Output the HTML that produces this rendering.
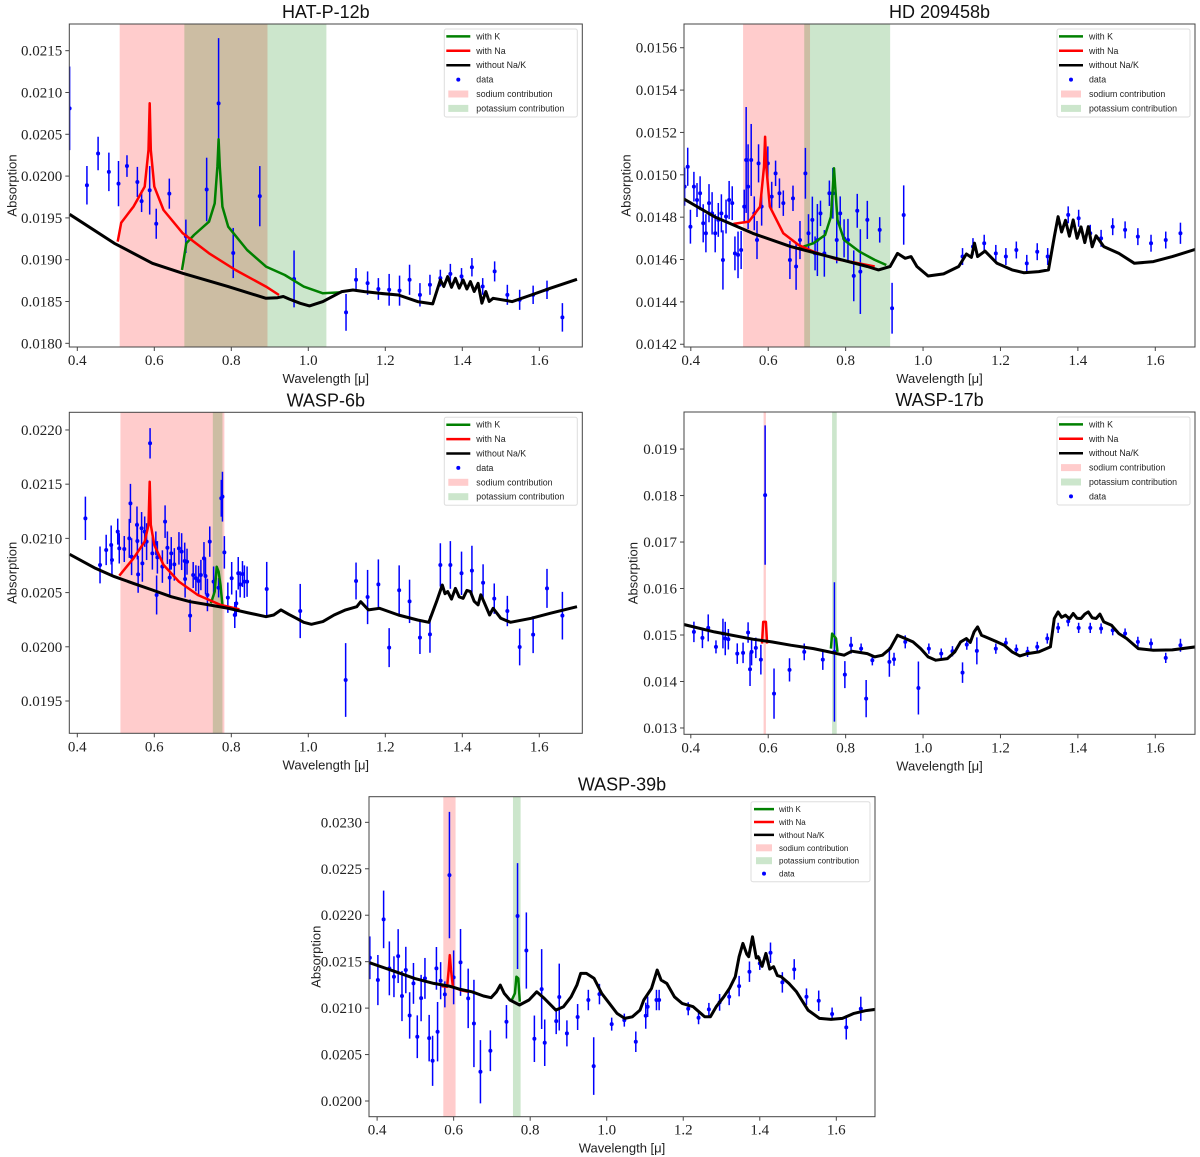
<!DOCTYPE html>
<html><head><meta charset="utf-8"><style>
body{margin:0;background:#fff}
svg{display:block}
.tk{font-family:"Liberation Serif",serif;font-size:15px;fill:#222}
.lb{font-family:"Liberation Sans",sans-serif;font-size:13px;fill:#222}
.tt{font-family:"Liberation Sans",sans-serif;font-size:18px;fill:#111}
.lg{font-family:"Liberation Sans",sans-serif;fill:#222}
</style></head><body>
<svg id="fig" xmlns="http://www.w3.org/2000/svg" width="1200" height="1157" viewBox="0 0 1200 1157"></svg>
<script>
// ---------- HAT-P-12b ----------
const hatTicksY=[0.0180,0.0185,0.0190,0.0195,0.0200,0.0205,0.0210,0.0215];
const hatModel=[[0.380,0.019543],[0.496,0.019196],[0.595,0.018957],[0.674,0.018838],[0.792,0.018678],[0.890,0.018538],[0.920,0.018546],[0.935,0.01856],[0.950,0.018530],[0.979,0.018479],[1.003,0.018447],[1.038,0.018499],[1.087,0.018618],[1.116,0.018638],[1.146,0.018618],[1.185,0.018598],[1.234,0.018578],[1.284,0.018499],[1.323,0.018471],[1.343,0.018758],[1.352,0.01868],[1.362,0.018798],[1.372,0.01867],[1.382,0.018778],[1.392,0.01866],[1.402,0.018758],[1.412,0.01865],[1.421,0.018738],[1.431,0.01862],[1.441,0.018718],[1.451,0.01848],[1.461,0.01862],[1.470,0.0185],[1.480,0.018538],[1.530,0.018499],[1.579,0.018578],[1.628,0.018658],[1.698,0.018766]];
const hatNa=[[0.505,0.019216],[0.514,0.019443],[0.546,0.019635],[0.575,0.019874],[0.585,0.020312],[0.588,0.02087],[0.591,0.020312],[0.600,0.019874],[0.624,0.019595],[0.674,0.019316],[0.742,0.019077],[0.811,0.018877],[0.890,0.018678],[0.924,0.018578]];
const hatK=[[0.672,0.018877],[0.683,0.019196],[0.703,0.019296],[0.742,0.019455],[0.757,0.019674],[0.764,0.020113],[0.767,0.02044],[0.770,0.020113],[0.777,0.019635],[0.792,0.019395],[0.841,0.019116],[0.890,0.018917],[0.939,0.018817],[0.988,0.018678],[1.038,0.018598],[1.087,0.01861]];
const hatData=[[0.380,0.02081,0.0005],[0.425,0.01989,0.00023],[0.454,0.02027,0.0002],[0.482,0.02005,0.00023],[0.507,0.01991,0.00027],[0.529,0.02012,0.00013],[0.556,0.01993,0.00018],[0.567,0.01970,0.00013],[0.588,0.01983,0.00029],[0.605,0.01943,0.00018],[0.639,0.01979,0.00018],[0.682,0.01928,0.0002],[0.736,0.01984,0.00038],[0.767,0.02087,0.00078],[0.805,0.01908,0.0003],[0.874,0.01976,0.00036],[0.963,0.01877,0.00034],[1.098,0.01837,0.00022],[1.124,0.01876,0.00014],[1.154,0.01872,0.00014],[1.182,0.01865,0.00013],[1.210,0.01864,0.00019],[1.237,0.01863,0.00018],[1.263,0.01876,0.00018],[1.290,0.01858,0.00014],[1.316,0.0187,0.00012],[1.343,0.01878,0.0001],[1.369,0.01883,0.00012],[1.398,0.0188,0.0001],[1.425,0.01891,0.00011],[1.453,0.01868,0.0001],[1.484,0.01886,0.00012],[1.517,0.01858,0.00012],[1.549,0.01852,0.00012],[1.584,0.01858,0.00011],[1.620,0.01864,0.00011],[1.660,0.01831,0.00017]];
const hatNaBand=[0.510,0.894];
const hatKBand=[0.678,1.047];
// ---------- HD 209458b ----------
const hdTicksY=[0.0142,0.0144,0.0146,0.0148,0.0150,0.0152,0.0154,0.0156];
const hdModel=[[0.382,0.014886],[0.461,0.014802],[0.560,0.014724],[0.658,0.014661],[0.757,0.014614],[0.856,0.014567],[0.885,0.014551],[0.915,0.014567],[0.934,0.014629],[0.954,0.014606],[0.969,0.014614],[0.984,0.014567],[1.013,0.014522],[1.053,0.014532],[1.092,0.014567],[1.112,0.014626],[1.125,0.01461],[1.133,0.014677],[1.141,0.014614],[1.160,0.01464],[1.191,0.014582],[1.230,0.014551],[1.260,0.014538],[1.299,0.014543],[1.324,0.014551],[1.339,0.014708],[1.349,0.014802],[1.358,0.01473],[1.368,0.014785],[1.378,0.01471],[1.388,0.014787],[1.398,0.0147],[1.408,0.014754],[1.418,0.01468],[1.427,0.014755],[1.437,0.01466],[1.447,0.014712],[1.467,0.014661],[1.506,0.014629],[1.546,0.014582],[1.595,0.01459],[1.644,0.014614],[1.703,0.014648]];
const hdNa=[[0.510,0.014768],[0.550,0.014779],[0.579,0.01485],[0.589,0.015038],[0.592,0.01518],[0.595,0.015038],[0.604,0.01485],[0.639,0.014724],[0.678,0.014669],[0.717,0.014637],[0.777,0.014601],[0.826,0.014585],[0.875,0.014567]];
const hdK=[[0.678,0.014653],[0.717,0.014677],[0.747,0.014716],[0.762,0.014802],[0.767,0.014944],[0.770,0.015031],[0.773,0.014944],[0.779,0.014787],[0.796,0.014692],[0.836,0.014637],[0.875,0.014598],[0.905,0.014574]];
const hdData=[[0.384,0.014944,0.00009],[0.392,0.015038,0.00009],[0.399,0.014755,0.00008],[0.408,0.014944,0.00007],[0.416,0.014881,0.00008],[0.424,0.014913,0.00008],[0.432,0.014771,0.00009],[0.439,0.014724,0.00009],[0.447,0.014866,0.00009],[0.455,0.014818,0.0001],[0.463,0.014724,0.00009],[0.471,0.014787,0.00008],[0.479,0.014818,0.00009],[0.483,0.014598,0.00014],[0.491,0.014803,0.00008],[0.499,0.014881,0.00009],[0.507,0.014866,0.00008],[0.514,0.014629,0.00008],[0.522,0.014622,0.00011],[0.530,0.014645,0.00009],[0.538,0.01485,0.00008],[0.543,0.01507,0.00025],[0.548,0.014944,0.0002],[0.556,0.01507,0.00017],[0.564,0.014818,0.00008],[0.571,0.014692,0.00009],[0.575,0.015054,0.00009],[0.583,0.01485,0.00009],[0.599,0.015054,0.00008],[0.609,0.014897,0.00007],[0.619,0.015007,0.00006],[0.629,0.014913,0.00007],[0.639,0.014866,0.00006],[0.656,0.014598,0.00009],[0.664,0.014889,0.00006],[0.672,0.014567,0.00011],[0.682,0.014692,0.00009],[0.696,0.015007,0.00012],[0.704,0.014724,0.00009],[0.714,0.014787,0.00011],[0.721,0.014629,0.00008],[0.727,0.014692,0.00017],[0.735,0.014818,0.00006],[0.745,0.014629,0.00011],[0.758,0.014913,0.00006],[0.767,0.014913,0.00012],[0.777,0.014692,0.00011],[0.786,0.014818,0.00008],[0.796,0.0147,0.00009],[0.806,0.014692,0.0001],[0.821,0.014523,0.00012],[0.830,0.01483,0.00008],[0.838,0.014543,0.0002],[0.856,0.014787,0.00009],[0.888,0.01474,0.00006],[0.920,0.01437,0.00012],[0.950,0.01481,0.00014],[1.102,0.014614,0.00004],[1.129,0.014661,0.00004],[1.158,0.014677,0.00004],[1.188,0.014629,0.00004],[1.214,0.014614,0.00004],[1.241,0.014645,0.00004],[1.268,0.014582,0.00004],[1.295,0.014637,0.00004],[1.322,0.014614,0.00004],[1.375,0.014811,0.00004],[1.402,0.014795,0.00004],[1.432,0.014724,0.00004],[1.460,0.0147,0.00004],[1.490,0.014755,0.00004],[1.522,0.01474,0.00004],[1.555,0.014708,0.00004],[1.589,0.014677,0.00004],[1.627,0.014692,0.00004],[1.665,0.014724,0.00005]];
const hdNaBand=[0.535,0.708];
const hdKBand=[0.693,0.915];
// ---------- WASP-6b ----------
const w6TicksY=[0.0195,0.0200,0.0205,0.0210,0.0215,0.0220];
const w6Model=[[0.380,0.020853],[0.447,0.020724],[0.496,0.020647],[0.546,0.020585],[0.595,0.020524],[0.644,0.020462],[0.693,0.020416],[0.742,0.020386],[0.792,0.020355],[0.841,0.020315],[0.890,0.020278],[0.910,0.020293],[0.929,0.02034],[0.949,0.0203],[0.969,0.020263],[0.988,0.020226],[1.008,0.020207],[1.038,0.020232],[1.067,0.020293],[1.097,0.02034],[1.126,0.02037],[1.136,0.020416],[1.156,0.02034],[1.185,0.020355],[1.234,0.020293],[1.284,0.020247],[1.313,0.020226],[1.333,0.020416],[1.348,0.02057],[1.355,0.02049],[1.362,0.020509],[1.372,0.02044],[1.382,0.020539],[1.392,0.02046],[1.402,0.020447],[1.412,0.02052],[1.421,0.020509],[1.431,0.02042],[1.441,0.020386],[1.448,0.02048],[1.456,0.020416],[1.471,0.020293],[1.480,0.020355],[1.500,0.020263],[1.525,0.020226],[1.579,0.020263],[1.628,0.020309],[1.698,0.02037]];
const w6Na=[[0.509,0.020656],[0.546,0.020816],[0.575,0.02097],[0.585,0.021124],[0.588,0.021523],[0.591,0.021124],[0.600,0.020939],[0.624,0.020755],[0.664,0.020601],[0.713,0.020478],[0.772,0.020386],[0.821,0.020346]];
const w6K=[[0.747,0.020401],[0.757,0.020509],[0.762,0.020739],[0.767,0.020693],[0.772,0.02057],[0.777,0.020386]];
const w6Data=[[0.421,0.021185,0.0002],[0.459,0.020755,0.00017],[0.475,0.020893,0.00014],[0.488,0.020939,0.00018],[0.490,0.020801,0.00014],[0.505,0.021062,0.00012],[0.509,0.020908,0.00014],[0.522,0.020902,0.00012],[0.535,0.021,0.00018],[0.538,0.021323,0.00018],[0.541,0.020831,0.00017],[0.555,0.021124,0.00017],[0.556,0.020976,0.00017],[0.558,0.020668,0.00017],[0.567,0.021093,0.00015],[0.569,0.02077,0.00017],[0.575,0.021062,0.00014],[0.580,0.02097,0.00017],[0.589,0.021877,0.00014],[0.595,0.020862,0.00015],[0.604,0.020954,0.00011],[0.606,0.020478,0.00018],[0.608,0.020825,0.00015],[0.621,0.02074,0.00015],[0.628,0.021154,0.00015],[0.634,0.020914,0.00015],[0.640,0.020638,0.00017],[0.644,0.020862,0.00015],[0.652,0.02076,0.00015],[0.664,0.020908,0.00015],[0.671,0.020878,0.00017],[0.679,0.020791,0.00017],[0.680,0.020625,0.00017],[0.685,0.020785,0.00012],[0.693,0.020287,0.00015],[0.701,0.020662,0.00012],[0.708,0.020632,0.00012],[0.715,0.020607,0.00014],[0.721,0.020662,0.00014],[0.729,0.020816,0.00015],[0.733,0.020653,0.00017],[0.738,0.020478,0.00015],[0.744,0.02097,0.00014],[0.754,0.020601,0.00014],[0.767,0.020545,0.00009],[0.774,0.02137,0.00017],[0.777,0.021385,0.00023],[0.782,0.020871,0.00015],[0.791,0.020453,0.00014],[0.801,0.020632,0.00015],[0.809,0.020293,0.00012],[0.813,0.020401,0.00012],[0.818,0.020678,0.00015],[0.823,0.020576,0.00012],[0.829,0.020671,0.00012],[0.834,0.020601,0.00015],[0.841,0.020601,0.00014],[0.892,0.020533,0.00025],[0.979,0.02033,0.00025],[1.097,0.019694,0.00034],[1.124,0.020607,0.00017],[1.154,0.020459,0.00025],[1.182,0.020576,0.00023],[1.210,0.019992,0.00018],[1.236,0.020521,0.00023],[1.263,0.020419,0.0002],[1.290,0.020084,0.00015],[1.316,0.020115,0.00017],[1.343,0.020755,0.0002],[1.369,0.020755,0.00022],[1.398,0.020678,0.0002],[1.425,0.020702,0.00023],[1.454,0.020591,0.00017],[1.483,0.020444,0.00014],[1.517,0.02033,0.00014],[1.549,0.019998,0.00017],[1.584,0.020112,0.00017],[1.620,0.020539,0.00018],[1.660,0.020287,0.00022]];
const w6NaBand=[0.512,0.782];
const w6KBand=[0.752,0.777];
// ---------- WASP-17b ----------
const w17TicksY=[0.013,0.014,0.015,0.016,0.017,0.018,0.019];
const w17Model=[[0.382,0.015225],[0.461,0.015067],[0.560,0.014909],[0.609,0.014852],[0.658,0.01478],[0.717,0.014708],[0.757,0.014636],[0.796,0.014565],[0.816,0.014651],[0.856,0.0146],[0.875,0.014529],[0.895,0.014565],[0.915,0.014708],[0.934,0.014995],[0.954,0.014924],[0.974,0.014852],[0.994,0.014708],[1.013,0.014529],[1.033,0.014457],[1.063,0.014493],[1.082,0.014636],[1.097,0.014852],[1.112,0.014924],[1.122,0.01484],[1.132,0.015067],[1.141,0.015175],[1.151,0.014995],[1.171,0.014924],[1.191,0.014852],[1.210,0.01478],[1.230,0.014636],[1.250,0.01455],[1.270,0.0146],[1.299,0.014636],[1.329,0.014744],[1.339,0.015354],[1.349,0.015498],[1.358,0.01538],[1.368,0.015426],[1.378,0.01535],[1.388,0.015462],[1.398,0.01536],[1.408,0.015354],[1.418,0.01545],[1.427,0.015498],[1.437,0.01537],[1.447,0.015354],[1.457,0.01545],[1.467,0.015282],[1.487,0.01521],[1.506,0.015031],[1.526,0.014924],[1.556,0.014708],[1.595,0.014672],[1.644,0.01468],[1.703,0.014744]];
const w17Na=[[0.584,0.014816],[0.587,0.015282],[0.594,0.015282],[0.597,0.014816]];
const w17K=[[0.762,0.014708],[0.765,0.015031],[0.775,0.014924],[0.779,0.014636]];
const w17Data=[[0.408,0.015067,0.00022],[0.430,0.014938,0.00022],[0.445,0.015153,0.00029],[0.465,0.014744,0.00014],[0.483,0.015031,0.00032],[0.489,0.014924,0.00036],[0.497,0.014909,0.00022],[0.520,0.0146,0.00022],[0.535,0.014615,0.00022],[0.548,0.015053,0.00022],[0.553,0.014263,0.00036],[0.557,0.014636,0.00029],[0.568,0.014723,0.00022],[0.581,0.014471,0.00032],[0.592,0.01801,0.0015],[0.615,0.013739,0.00054],[0.655,0.014249,0.00025],[0.693,0.014636,0.00018],[0.741,0.014471,0.00022],[0.771,0.014636,0.0015],[0.798,0.014148,0.00029],[0.814,0.01478,0.00018],[0.840,0.014708,0.00011],[0.853,0.013632,0.0004],[0.869,0.014457,0.00011],[0.913,0.014421,0.00032],[0.925,0.014479,0.00014],[0.954,0.014852,0.00014],[0.988,0.013861,0.00057],[1.015,0.014708,0.00011],[1.047,0.0146,0.00011],[1.076,0.014651,0.00011],[1.102,0.014191,0.00022],[1.113,0.014794,0.00011],[1.139,0.014658,0.00029],[1.188,0.014708,0.00011],[1.214,0.01483,0.00011],[1.241,0.014687,0.00011],[1.270,0.014636,0.00011],[1.295,0.014744,0.00011],[1.321,0.014924,0.00011],[1.349,0.015153,0.00011],[1.375,0.015297,0.00011],[1.402,0.015153,0.00011],[1.432,0.015153,0.00011],[1.460,0.015139,0.00011],[1.490,0.015103,0.00011],[1.522,0.015031,0.00011],[1.555,0.014852,0.00011],[1.589,0.014816,0.00011],[1.627,0.014507,0.00011],[1.665,0.01478,0.00014]];
const w17NaBand=[0.588,0.594];
const w17KBand=[0.765,0.777];
// ---------- WASP-39b ----------
const w39TicksY=[0.0200,0.0205,0.0210,0.0215,0.0220,0.0225,0.0230];
const w39Model=[[0.380,0.021489],[0.448,0.021392],[0.498,0.02132],[0.548,0.021266],[0.588,0.021237],[0.618,0.021201],[0.648,0.021176],[0.678,0.02113],[0.698,0.021112],[0.712,0.021176],[0.722,0.021248],[0.732,0.021158],[0.747,0.021087],[0.772,0.021033],[0.797,0.021087],[0.817,0.021176],[0.837,0.021105],[0.867,0.020979],[0.887,0.021015],[0.907,0.021122],[0.922,0.021248],[0.932,0.021374],[0.947,0.021374],[0.967,0.02132],[0.987,0.021158],[1.007,0.021051],[1.027,0.020943],[1.047,0.020889],[1.067,0.020907],[1.087,0.020979],[1.097,0.021087],[1.117,0.021212],[1.132,0.02141],[1.142,0.021302],[1.157,0.021266],[1.177,0.021122],[1.197,0.021051],[1.226,0.021015],[1.256,0.020907],[1.271,0.020907],[1.286,0.021015],[1.306,0.021122],[1.321,0.021212],[1.336,0.021338],[1.346,0.021553],[1.356,0.021697],[1.366,0.02158],[1.371,0.021553],[1.381,0.021768],[1.391,0.02154],[1.396,0.021553],[1.406,0.02145],[1.416,0.021589],[1.426,0.02142],[1.436,0.021446],[1.446,0.02135],[1.456,0.021338],[1.476,0.021266],[1.496,0.021176],[1.526,0.020979],[1.556,0.020889],[1.586,0.020878],[1.616,0.020889],[1.646,0.020943],[1.676,0.020972],[1.702,0.020986]];
const w39Na=[[0.568,0.021237],[0.583,0.02123],[0.587,0.02141],[0.590,0.021571],[0.593,0.02141],[0.598,0.02123],[0.618,0.021194],[0.638,0.021176]];
const w39K=[[0.752,0.021087],[0.760,0.021158],[0.764,0.021338],[0.769,0.02132],[0.773,0.021069]];
const w39Data=[[0.381,0.021542,0.00023],[0.402,0.021302,0.00027],[0.417,0.021955,0.00031],[0.432,0.021428,0.00029],[0.444,0.021338,0.00022],[0.455,0.02156,0.00029],[0.465,0.02113,0.00027],[0.475,0.02141,0.00025],[0.485,0.020921,0.00025],[0.495,0.021266,0.00022],[0.505,0.020692,0.00023],[0.515,0.021108,0.00025],[0.525,0.02132,0.00022],[0.536,0.020677,0.00025],[0.545,0.020433,0.00027],[0.555,0.021428,0.00023],[0.558,0.020746,0.00032],[0.566,0.021295,0.0002],[0.577,0.021148,0.00014],[0.589,0.022432,0.00068],[0.600,0.021331,0.00029],[0.618,0.021492,0.00036],[0.638,0.021105,0.00032],[0.653,0.020835,0.00047],[0.670,0.020315,0.00034],[0.696,0.020541,0.00022],[0.738,0.020853,0.00018],[0.767,0.021991,0.00057],[0.790,0.02162,0.00041],[0.811,0.02067,0.00025],[0.830,0.021205,0.00043],[0.838,0.020627,0.00025],[0.868,0.02086,0.00014],[0.876,0.021119,0.00036],[0.896,0.020728,0.00014],[0.924,0.020904,0.00014],[0.952,0.021087,0.00011],[0.966,0.020376,0.00031],[0.981,0.021151,0.00011],[1.013,0.020828,0.00007],[1.046,0.020871,0.00007],[1.076,0.020638,0.00011],[1.102,0.020918,0.00014],[1.107,0.021015,0.00011],[1.130,0.021087,0.00011],[1.137,0.021087,0.00011],[1.213,0.020993,0.00007],[1.240,0.020896,0.00007],[1.267,0.020986,0.00007],[1.295,0.021062,0.00009],[1.320,0.021122,0.00009],[1.346,0.021237,0.00011],[1.373,0.021392,0.00011],[1.400,0.021481,0.00007],[1.428,0.021596,0.00011],[1.459,0.021277,0.00011],[1.490,0.021417,0.00011],[1.522,0.021122,0.00009],[1.554,0.021079,0.00011],[1.589,0.020936,0.00007],[1.626,0.020792,0.00013],[1.664,0.020993,0.00013]];
const w39NaBand=[0.573,0.605];
const w39KBand=[0.755,0.775];

const xTicks=[0.4,0.6,0.8,1.0,1.2,1.4,1.6];
const xTickLabels=["0.4","0.6","0.8","1.0","1.2","1.4","1.6"];

const NS="http://www.w3.org/2000/svg";
const svg=document.getElementById('fig');
function mk(tag,attrs,parent){const e=document.createElementNS(NS,tag);for(const k in attrs)e.setAttribute(k,attrs[k]);(parent||svg).appendChild(e);return e;}

const panels=[
 {id:'hat-p-12b',title:'HAT-P-12b',L:69.3,R:582.3,T:24,B:347,x0:0.3792,x1:1.7117,y0:0.017956,y1:0.021819,ty:[hatTicksY,4],model:hatModel,na:hatNa,k:hatK,data:hatData,naB:hatNaBand,kB:hatKBand,ylx:12,leg:'a'},
 {id:'hd-209458b',title:'HD 209458b',L:684,R:1195,T:24,B:347,x0:0.3824,x1:1.7026,y0:0.014187,y1:0.015712,ty:[hdTicksY,4],model:hdModel,na:hdNa,k:hdK,data:hdData,naB:hdNaBand,kB:hdKBand,ylx:626,leg:'a'},
 {id:'wasp-6b',title:'WASP-6b',L:69.3,R:582.3,T:412.3,B:733.3,x0:0.3792,x1:1.7117,y0:0.019202,y1:0.022163,ty:[w6TicksY,4],model:w6Model,na:w6Na,k:w6K,data:w6Data,naB:w6NaBand,kB:w6KBand,ylx:12,leg:'a'},
 {id:'wasp-17b',title:'WASP-17b',L:684,R:1195,T:412,B:734.3,x0:0.3824,x1:1.7026,y0:0.012864,y1:0.019797,ty:[w17TicksY,3],model:w17Model,na:w17Na,k:w17K,data:w17Data,naB:w17NaBand,kB:w17KBand,ylx:633,leg:'b'},
 {id:'wasp-39b',title:'WASP-39b',L:369,R:875,T:796.7,B:1116.7,x0:0.3788,x1:1.7011,y0:0.019831,y1:0.023276,ty:[w39TicksY,4],model:w39Model,na:w39Na,k:w39K,data:w39Data,naB:w39NaBand,kB:w39KBand,ylx:316,leg:'c'}
];

panels.forEach(p=>{
 const g=mk('g',{});
 
 
 const sx=v=>p.L+(v-p.x0)/(p.x1-p.x0)*(p.R-p.L);
 const sy=v=>p.B-(v-p.y0)/(p.y1-p.y0)*(p.B-p.T);
 const clipId='clip-'+p.id;
 const cp=mk('clipPath',{id:clipId},g);mk('rect',{x:p.L,y:p.T,width:p.R-p.L,height:p.B-p.T},cp);
 const plot=mk('g',{'clip-path':'url(#'+clipId+')'},g);
 
 
 // bands
 const nb=mk('rect',{x:sx(p.naB[0]),y:p.T,width:sx(p.naB[1])-sx(p.naB[0]),height:p.B-p.T,fill:'#ff0000','fill-opacity':0.2},plot);
 
 
 const kb=mk('rect',{x:sx(p.kB[0]),y:p.T,width:sx(p.kB[1])-sx(p.kB[0]),height:p.B-p.T,fill:'#008000','fill-opacity':0.2},plot);
 
 
 // data
 p.data.forEach(d=>{
  const eb=mk('line',{x1:sx(d[0]),x2:sx(d[0]),y1:sy(d[1]-d[2]),y2:sy(d[1]+d[2]),stroke:'#0000ff','stroke-width':1.5},plot);
  
  
  const c=mk('circle',{cx:sx(d[0]),cy:sy(d[1]),r:2,fill:'#0000ff'},plot);
  
  
 });
 const path=arr=>arr.map((q,i)=>(i?'L':'M')+sx(q[0]).toFixed(1)+','+sy(q[1]).toFixed(1)).join('');
 const lk=mk('path',{d:path(p.k),fill:'none',stroke:'#008000','stroke-width':2.5,'stroke-linejoin':'round'},plot);
 
 
 const ln=mk('path',{d:path(p.na),fill:'none',stroke:'#ff0000','stroke-width':2.5,'stroke-linejoin':'round'},plot);
 
 
 const lm=mk('path',{d:path(p.model),fill:'none',stroke:'#000','stroke-width':3,'stroke-linejoin':'round'},plot);
 
 
 // frame
 const fr=mk('rect',{x:p.L,y:p.T,width:p.R-p.L,height:p.B-p.T,fill:'none',stroke:'#444','stroke-width':1},g);
 
 
 // x ticks
 xTicks.forEach((t,i)=>{
  const x=sx(t);
  const tl=mk('line',{x1:x,x2:x,y1:p.B,y2:p.B+4,stroke:'#444'},g);
  
  
  const tx=mk('text',{x:x,y:p.B+18,'text-anchor':'middle',class:'tk'},g);tx.textContent=xTickLabels[i];
  
  
 });
 p.ty[0].forEach(t=>{
  const y=sy(t);
  const tl=mk('line',{x1:p.L-4,x2:p.L,y1:y,y2:y,stroke:'#444'},g);
  
  
  const tx=mk('text',{x:p.L-7,y:y+5,'text-anchor':'end',class:'tk'},g);tx.textContent=t.toFixed(p.ty[1]);
  
  
 });
 const xl=mk('text',{x:(p.L+p.R)/2,y:p.B+36,'text-anchor':'middle',class:'lb'},g);xl.textContent='Wavelength [μ]';
 
 
 const ym=(p.T+p.B)/2;
 const yl=mk('text',{x:p.ylx,y:ym,'text-anchor':'middle',class:'lb','dominant-baseline':'central',transform:'rotate(-90 '+p.ylx+' '+ym+')'},g);yl.textContent='Absorption';
 
 
 const tt=mk('text',{x:(p.L+p.R)/2,y:p.T-6,'text-anchor':'middle',class:'tt'},g);tt.textContent=p.title;
 
 
 // legend
 const small=p.leg==='c';
 const bw=small?119:133,bh=small?80:88,rs=small?12.9:14.4,fs=small?8:8.8;
 const bx=p.R-bw-5,by=p.T+5;
 const lg=mk('g',{},g);
 
 
 mk('rect',{x:bx,y:by,width:bw,height:bh,rx:2,fill:'#fff','fill-opacity':0.85,stroke:'#ddd'},lg);
 const itemsA=[['line','#008000','with K'],['line','#ff0000','with Na'],['line','#000','without Na/K'],['dot','#0000ff','data'],['patch','rgba(255,0,0,0.2)','sodium contribution'],['patch','rgba(0,128,0,0.2)','potassium contribution']];
 const items=p.leg==='a'?itemsA:[itemsA[0],itemsA[1],itemsA[2],itemsA[4],itemsA[5],itemsA[3]];
 const lx0=bx+(small?3:2),lx1=bx+(small?23:26),tx0=bx+(small?28:32);
 items.forEach((it,i)=>{
  const y=by+7.4+rs*i;
  const ent=mk('g',{},lg);
  
  
  if(it[0]==='line')mk('line',{x1:lx0,x2:lx1,y1:y,y2:y,stroke:it[1],'stroke-width':2.5},ent);
  else if(it[0]==='dot')mk('circle',{cx:(lx0+lx1)/2,cy:y,r:2,fill:it[1]},ent);
  else mk('rect',{x:lx0+2,y:y-3.5,width:lx1-lx0-4,height:7,fill:it[1]},ent);
  const t=mk('text',{x:tx0,y:y+3,class:'lg','font-size':fs},ent);t.textContent=it[2];
 });
});
</script>
</body></html>
